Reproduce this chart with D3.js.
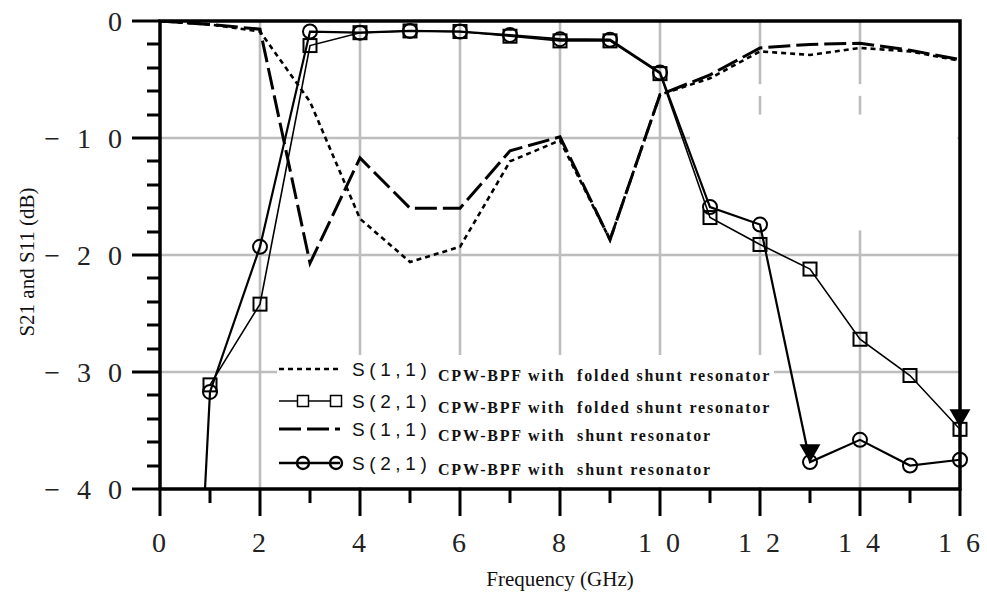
<!doctype html>
<html>
<head>
    <meta charset="utf-8">
    <style>
        body {
            margin: 0;
            background: #fff;
        }

        svg {
            display: block;
        }

        .grid line {
            stroke: #bdbdbd;
            stroke-width: 2.6;
        }

        .tick-label {
            font-family: 'Liberation Serif', serif;
            font-size: 28px;
            fill: #222;
        }

        .axis-title {
            font-family: 'Liberation Serif', serif;
            font-size: 21px;
            fill: #111;
        }

        .leg-s {
            font-family: 'Liberation Sans', sans-serif;
            font-size: 19px;
            letter-spacing: 4.6px;
            fill: #111;
        }

        .leg-name {
            font-family: 'Liberation Serif', serif;
            font-weight: bold;
            font-size: 16px;
            letter-spacing: 1.8px;
            fill: #111;
        }
    </style>
    <script src="https://d3js.org/d3.v7.min.js"></script>
</head>
<body>
<svg width="987" height="597"></svg>
<script>
    // frequency points (GHz)
    const freq = [0, 1, 2, 3, 4, 5, 6, 7, 8, 9, 10, 11, 12, 13, 14, 15, 16];
    const s11Folded = [0, -0.3, -0.9, -6.9, -16.9, -20.6, -19.3, -12.0, -10.2, -18.7, -6.3, -4.9, -2.6, -2.9, -2.3, -2.6, -3.4];
    const s11Shunt = [0, -0.3, -0.7, -20.7, -11.7, -16.0, -16.0, -11.1, -9.9, -18.7, -6.3, -4.6, -2.3, -2.0, -1.9, -2.5, -3.3];

    const s21Freq = [1, 2, 3, 4, 5, 6, 7, 8, 9, 10, 11, 12, 13, 14, 15, 16];
    const s21Folded = [-31.1, -24.2, -2.1, -1.0, -0.85, -0.9, -1.3, -1.7, -1.7, -4.5, -16.8, -19.1, -21.2, -27.2, -30.3, -34.9];
    const s21Shunt = [-31.7, -19.3, -0.9, -1.0, -0.85, -0.9, -1.2, -1.55, -1.6, -4.4, -15.9, -17.4, -37.7, -35.8, -38.0, -37.5];
    // the shunt S21 trace comes up from below the plot before 1 GHz
    const s21ShuntLeadF = [0.9];
    const s21ShuntLead = [-40];

    // filled triangle markers
    const markF = [13, 16];
    const markDb = [-36.7, -33.7];

    const xTicks = [0, 2, 4, 6, 8, 10, 12, 14, 16];
    const xTickLabels = ['0', '2', '4', '6', '8', '1 0', '1 2', '1 4', '1 6'];
    const yTicks = [0, -10, -20, -30, -40];
    const yTickLabels = ['0', '\u2212 1 0', '\u2212 2 0', '\u2212 3 0', '\u2212 4 0'];

    const legendS = ['S(1,1)', 'S(2,1)', 'S(1,1)', 'S(2,1)'];
    const legendNames = [
        'CPW-BPF with  folded shunt resonator',
        'CPW-BPF with  folded shunt resonator',
        'CPW-BPF with  shunt resonator',
        'CPW-BPF with  shunt resonator'
    ];

    const svg = d3.select('svg');
    const pLeft = 160, pRight = 960, pTop = 21, pBottom = 489;

    const x = d3.scaleLinear().domain([0, 16]).range([pLeft, pRight]);
    const y = d3.scaleLinear().domain([0, -40]).range([pTop, pBottom]);

    svg.append('clipPath').attr('id', 'plot')
        .append('rect')
        .attr('x', pLeft).attr('y', pTop)
        .attr('width', pRight - pLeft).attr('height', pBottom - pTop);

    // grid
    const grid = svg.append('g').attr('class', 'grid');
    grid.selectAll('.gx')
        .data(xTicks.slice(1, -1))
        .enter().append('line')
        .attr('x1', d => x(d)).attr('x2', d => x(d))
        .attr('y1', pTop).attr('y2', pBottom);
    grid.selectAll('.gy')
        .data(yTicks.slice(1, -1))
        .enter().append('line')
        .attr('x1', pLeft).attr('x2', pRight)
        .attr('y1', d => y(d)).attr('y2', d => y(d));

    // washed-out patch in the original scan
    svg.append('rect')
        .attr('x', x(10.6)).attr('y', y(-5.4))
        .attr('width', x(15.95) - x(10.6)).attr('height', y(-6.4) - y(-5.4))
        .attr('fill', '#fff');
    svg.append('rect')
        .attr('x', x(10.6)).attr('y', y(-8.0))
        .attr('width', x(15.95) - x(10.6)).attr('height', y(-17.9) - y(-8.0))
        .attr('fill', '#fff');

    // legend box background sits over the grid
    const legX = 277, legY = 355;
    svg.append('rect')
        .attr('x', legX).attr('y', legY)
        .attr('width', 497).attr('height', pBottom - legY - 2)
        .attr('fill', '#fff');

    const line = d3.line().x(d => x(d[0])).y(d => y(d[1]));
    const plot = svg.append('g').attr('clip-path', 'url(#plot)');

    const s11F = freq.map((f, i) => [f, s11Folded[i]]);
    const s11S = freq.map((f, i) => [f, s11Shunt[i]]);
    const s21F = s21Freq.map((f, i) => [f, s21Folded[i]]);
    const s21S = s21Freq.map((f, i) => [f, s21Shunt[i]]);
    const s21SLead = s21ShuntLeadF.map((f, i) => [f, s21ShuntLead[i]]).concat(s21S);

    plot.append('path').datum(s11S)
        .attr('d', line).attr('fill', 'none')
        .attr('stroke', '#000').attr('stroke-width', 3)
        .attr('stroke-dasharray', '22,6');

    plot.append('path').datum(s11F)
        .attr('d', line).attr('fill', 'none')
        .attr('stroke', '#000').attr('stroke-width', 2.6)
        .attr('stroke-dasharray', '5,4');

    plot.append('path').datum(s21F)
        .attr('d', line).attr('fill', 'none')
        .attr('stroke', '#000').attr('stroke-width', 1.6);

    plot.append('path').datum(s21SLead)
        .attr('d', line).attr('fill', 'none')
        .attr('stroke', '#000').attr('stroke-width', 2.2);

    svg.selectAll('.sq')
        .data(s21F)
        .enter().append('rect')
        .attr('x', d => x(d[0]) - 6.5).attr('y', d => y(d[1]) - 6.5)
        .attr('width', 13).attr('height', 13)
        .attr('fill', 'none').attr('stroke', '#000').attr('stroke-width', 2);

    svg.selectAll('.ci')
        .data(s21S)
        .enter().append('circle')
        .attr('cx', d => x(d[0])).attr('cy', d => y(d[1]))
        .attr('r', 7)
        .attr('fill', 'none').attr('stroke', '#000').attr('stroke-width', 2);

    svg.selectAll('.mk')
        .data(markF)
        .enter().append('path')
        .attr('d', d3.symbol().type(d3.symbolTriangle).size(190))
        .attr('transform', (d, i) => `translate(${x(d)}, ${y(markDb[i])}) rotate(180)`)
        .attr('fill', '#000');

    // frame
    svg.append('rect')
        .attr('x', pLeft).attr('y', pTop)
        .attr('width', pRight - pLeft).attr('height', pBottom - pTop)
        .attr('fill', 'none').attr('stroke', '#000').attr('stroke-width', 3.5);

    // x ticks
    svg.selectAll('.xt')
        .data(d3.range(0, 17))
        .enter().append('line')
        .attr('x1', d => x(d)).attr('x2', d => x(d))
        .attr('y1', pBottom)
        .attr('y2', d => pBottom + (d % 2 === 0 ? 27 : 14))
        .attr('stroke', '#000').attr('stroke-width', 3);

    svg.selectAll('.xl')
        .data(xTicks)
        .enter().append('text')
        .attr('class', 'tick-label')
        .attr('x', d => x(d) - 1).attr('y', 552)
        .attr('text-anchor', 'middle')
        .style('white-space', 'pre')
        .style('word-spacing', '7px')
        .text((d, i) => xTickLabels[i]);

    // y ticks
    svg.selectAll('.yt')
        .data(d3.range(0, -41, -2))
        .enter().append('line')
        .attr('x1', d => pLeft - (d % 10 === 0 ? 28 : 13)).attr('x2', pLeft)
        .attr('y1', d => Math.round(y(d))).attr('y2', d => Math.round(y(d)))
        .attr('stroke', '#000').attr('stroke-width', 3);

    svg.selectAll('.yl')
        .data(yTicks)
        .enter().append('text')
        .attr('class', 'tick-label')
        .attr('x', 122).attr('y', d => y(d) + 10)
        .attr('text-anchor', 'end')
        .style('white-space', 'pre')
        .style('word-spacing', '10px')
        .text((d, i) => yTickLabels[i]);

    // axis titles
    svg.append('text')
        .attr('class', 'axis-title')
        .attr('transform', 'translate(34, 262) rotate(-90)')
        .attr('text-anchor', 'middle')
        .text('S21 and S11 (dB)');

    svg.append('text')
        .attr('class', 'axis-title')
        .attr('x', 560).attr('y', 586)
        .attr('text-anchor', 'middle')
        .text('Frequency (GHz)');

    // legend
    const rowY = [369, 401, 429, 463];
    const styles = [
        { w: 2.6, dash: '5,4', marker: null },
        { w: 1.4, dash: null, marker: 'square' },
        { w: 3, dash: '22,6', marker: null },
        { w: 2.6, dash: null, marker: 'circle' }
    ];
    const leg = svg.append('g');
    rowY.forEach((ry, i) => {
        const st = styles[i];
        leg.append('line')
            .attr('x1', 279).attr('x2', 340)
            .attr('y1', ry).attr('y2', ry)
            .attr('stroke', '#000').attr('stroke-width', st.w)
            .attr('stroke-dasharray', st.dash);
        [303, 336].forEach(mx => {
            if (st.marker === 'square') {
                leg.append('rect')
                    .attr('x', mx - 5.5).attr('y', ry - 5.5)
                    .attr('width', 11).attr('height', 11)
                    .attr('fill', '#fff').attr('stroke', '#000').attr('stroke-width', 1.5);
            } else if (st.marker === 'circle') {
                leg.append('circle')
                    .attr('cx', mx).attr('cy', ry).attr('r', 6)
                    .attr('fill', 'none').attr('stroke', '#000').attr('stroke-width', 2.4);
            }
        });
        leg.append('text')
            .attr('class', 'leg-s')
            .attr('x', 352).attr('y', ry + 7)
            .text(legendS[i]);
        leg.append('text')
            .attr('class', 'leg-name')
            .attr('x', 438).attr('y', ry + 12)
            .style('white-space', 'pre')
            .text(legendNames[i]);
    });
</script>
</body>
</html>
